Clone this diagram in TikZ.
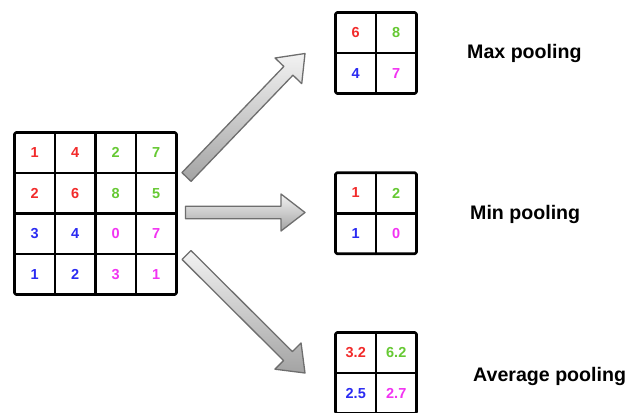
\documentclass[tikz,border=0pt]{standalone}
\usepackage{fontspec}
\setmainfont{Liberation Sans}
\usetikzlibrary{calc}
\definecolor{nred}{HTML}{F22B2B}
\definecolor{ngreen}{HTML}{66C933}
\definecolor{nblue}{HTML}{2B2BF2}
\definecolor{nmag}{HTML}{F233F2}
\definecolor{arrline}{HTML}{6E6E6E}
\tikzset{
  gridline/.style={line width=2.6pt, black, line cap=round, line join=round},
  num/.style={font=\fontsize{14.5}{16}\selectfont\bfseries, inner sep=0pt},
  lbl/.style={font=\fontsize{19.6}{22}\selectfont\bfseries, inner sep=0pt, anchor=base west},
  blockarrow/.style={draw=arrline, line width=1.3pt, line join=round, top color=white!95!black, bottom color=black!36},
}
% block arrow from start coordinate #1 to tip coordinate #2
\newcommand{\blockarr}[2]{%
  \shade[blockarrow]
    ($(#1)!6.3pt!90:(#2)$) --
    ($($(#2)!24pt!(#1)$)!6.3pt!90:(#2)$) --
    ($($(#2)!24pt!(#1)$)!18.5pt!90:(#2)$) --
    (#2) --
    ($($(#2)!24pt!(#1)$)!18.5pt!-90:(#2)$) --
    ($($(#2)!24pt!(#1)$)!6.3pt!-90:(#2)$) --
    ($(#1)!6.3pt!-90:(#2)$) -- cycle;}
\begin{document}
\begin{tikzpicture}[x=1pt,y=-1pt]
\useasboundingbox (0,0) rectangle (628,412);
\fill[white] (0,0) rectangle (628,412);
% input grid
\def\c{40.5}
\draw[gridline, rounded corners=1.5pt] (14.5,132.5) rectangle ++(4*\c,4*\c);
\foreach \i in {1,2,3} {
  \draw[gridline] (14.5+\i*\c,132.5) -- ++(0,4*\c);
  \draw[gridline] (14.5,132.5+\i*\c) -- ++(4*\c,0);
}
\foreach \v/\col [count=\k from 0] in {1/nred,4/nred,2/ngreen,7/ngreen,2/nred,6/nred,8/ngreen,5/ngreen,3/nblue,4/nblue,0/nmag,7/nmag,1/nblue,2/nblue,3/nmag,1/nmag} {
  \pgfmathtruncatemacro{\r}{int(\k/4)}
  \pgfmathtruncatemacro{\q}{mod(\k,4)}
  \node[num, text=\col] (in\k) at (14.5+\c/2+\q*\c, 132.5+\c/2+\r*\c) {\v};
}
% output grids
\foreach \name/\yy in {max/12.5, min/172.7, avg/332.5} {
  \draw[gridline, rounded corners=1.5pt] (335.5,\yy) rectangle ++(2*\c,2*\c);
  \draw[gridline] (335.5+\c,\yy) -- ++(0,2*\c);
  \draw[gridline] (335.5,\yy+\c) -- ++(2*\c,0);
  \coordinate (\name00) at (335.5+\c/2,\yy+\c/2);
  \coordinate (\name01) at (335.5+1.5*\c,\yy+\c/2);
  \coordinate (\name10) at (335.5+\c/2,\yy+1.5*\c);
  \coordinate (\name11) at (335.5+1.5*\c,\yy+1.5*\c);
}
\node[num, text=nred]   (mx1) at (max00) {6};
\node[num, text=ngreen] (mx2) at (max01) {8};
\node[num, text=nblue]  (mx3) at (max10) {4};
\node[num, text=nmag]   (mx4) at (max11) {7};
\node[num, text=nred]   (mn1) at (min00) {1};
\node[num, text=ngreen] (mn2) at (min01) {2};
\node[num, text=nblue]  (mn3) at (min10) {1};
\node[num, text=nmag]   (mn4) at (min11) {0};
\node[num, text=nred]   (av1) at (avg00) {3.2};
\node[num, text=ngreen] (av2) at (avg01) {6.2};
\node[num, text=nblue]  (av3) at (avg10) {2.5};
\node[num, text=nmag]   (av4) at (avg11) {2.7};
% labels
\node[lbl] (lmax) at (467,58.5) {Max pooling};
\node[lbl] (lmin) at (470,219.5) {Min pooling};
\node[lbl] (lavg) at (473,381.5) {Average pooling};
% arrows
\coordinate (s1) at (186.5,177);
\coordinate (t1) at (305,53.5);
\coordinate (s2) at (185.5,212.5);
\coordinate (t2) at (305,212.5);
\coordinate (s3) at (186.5,255);
\coordinate (t3) at (305,373);
\blockarr{s1}{t1}
\blockarr{s2}{t2}
\blockarr{s3}{t3}
\end{tikzpicture}
\end{document}
